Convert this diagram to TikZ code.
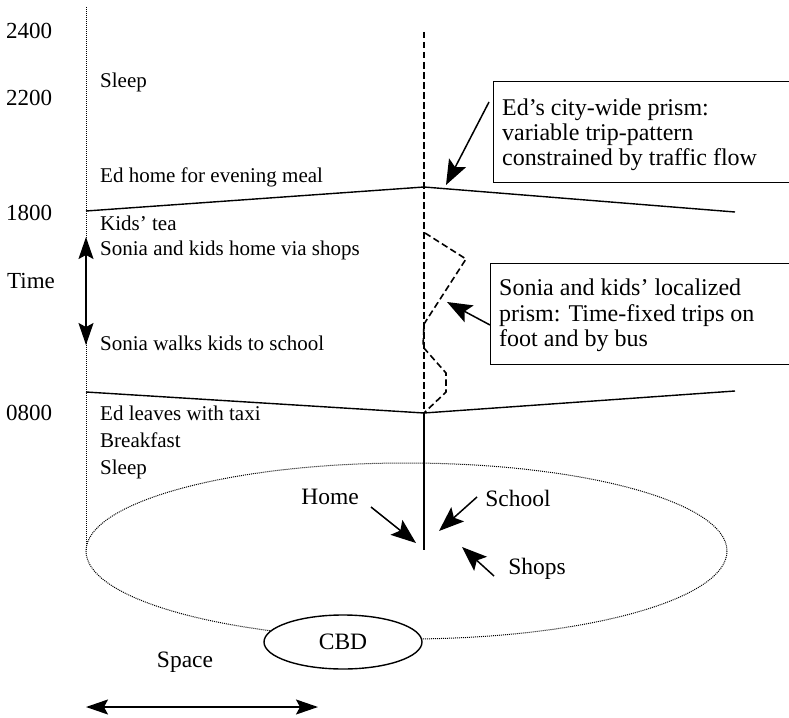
\documentclass[tikz,border=0pt]{standalone}
\usepackage{fontspec}
\setmainfont{Liberation Serif}
\usetikzlibrary{arrows.meta,shapes.geometric}
\tikzset{
  tl/.style={anchor=base west, inner sep=0pt, font=\fontsize{21}{25}\selectfont},
  ax/.style={anchor=base west, inner sep=0pt, font=\fontsize{23}{27}\selectfont},
  bx/.style={anchor=base west, inner sep=0pt, font=\fontsize{24}{26}\selectfont},
  lbl/.style={inner sep=0pt, font=\fontsize{23.5}{27}\selectfont},
  boxst/.style={draw, line width=1.2pt, anchor=north west, inner sep=0pt},
  prism/.style={line width=1.4pt},
  trippath/.style={line width=1.6pt, dash pattern=on 6.5pt off 3.5pt},
  dotl/.style={line width=1pt, dash pattern=on 1pt off 1pt},
  arr/.style={line width=1.5pt, -{Stealth[length=25pt, width=19pt, inset=5pt]}},
  darr/.style={line width=1.7pt, {Stealth[length=22pt, width=15pt, inset=4pt]}-{Stealth[length=22pt, width=15pt, inset=4pt]}},
}
\begin{document}
\begin{tikzpicture}[x=1pt, y=-1pt]
\useasboundingbox (0,0) rectangle (789,717);
\clip (0,0) rectangle (789,717);

% axis labels
\node[ax] (t2400) at (6,38) {2400};
\node[ax] (t2200) at (6,105) {2200};
\node[ax] (t1800) at (6,220) {1800};
\node[ax] (ttime) at (7,288) {Time};
\node[ax] (t0800) at (6,420) {0800};

% dotted time axis
\coordinate (axtop) at (86,7);
\coordinate (axbot) at (86,551);
\draw[dotl] (axtop) -- (axbot);

% time arrow
\coordinate (ta1) at (86,237);
\coordinate (ta2) at (86,345);
\draw[darr] (ta1) -- (ta2);

% activity labels
\node[tl] (sleep1) at (100,87) {Sleep};
\node[tl] (edhome) at (100,182) {Ed home for evening meal};
\node[tl] (kidstea) at (100,230) {Kids’ tea};
\node[tl] (soniahome) at (100,255) {Sonia and kids home via shops};
\node[tl] (soniawalk) at (100,350) {Sonia walks kids to school};
\node[tl] (edleaves) at (100,420) {Ed leaves with taxi};
\node[tl] (breakfast) at (100,447) {Breakfast};
\node[tl] (sleep2) at (100,474) {Sleep};

% dotted ellipse (space)
\draw[dotl] (406.5,551) ellipse [x radius=320.5, y radius=88];

% Ed's prism lines
\coordinate (u1) at (86,211);
\coordinate (u2) at (424,187);
\coordinate (u3) at (735,212);
\draw[prism] (u1) -- (u2) -- (u3);
\coordinate (l1) at (86,392);
\coordinate (l2) at (424,413);
\coordinate (l3) at (735,391);
\draw[prism] (l1) -- (l2) -- (l3);

% vertical path
\coordinate (vtop) at (424,32);
\coordinate (vbot) at (424,550);
\draw[trippath] (vtop) -- (vbot);
\draw[line width=1.6pt] (l2) -- (vbot);

% Sonia's path
\draw[trippath] (425,233) -- (466,259) -- (424,324) -- (423,347) -- (446,373) -- (446,392) -- (l2);

% boxes
\node[boxst, minimum width=310pt, minimum height=101pt] (edbox) at (493,81) {};
\node[bx] (ed1) at (502,115) {Ed’s city-wide prism:};
\node[bx] (ed2) at (502,140) {variable trip-pattern};
\node[bx] (ed3) at (502,165) {constrained by traffic flow};

\node[boxst, minimum width=310pt, minimum height=101pt] (sobox) at (490,263) {};
\node[bx] (so1) at (499,295) {Sonia and kids’ localized};
\node[bx] (so2) at (499,321) {prism: Time-fixed trips on};
\node[bx] (so3) at (499,346) {foot and by bus};

\coordinate (edarrs) at (489,102);
\coordinate (edarrt) at (446,185);
\draw[arr] (edarrs) -- (edarrt);
\coordinate (soarrs) at (490,325);
\coordinate (soarrt) at (447,302);
\draw[arr] (soarrs) -- (soarrt);

% places
\node[lbl] (home) at (330,497) {Home};
\node[lbl] (school) at (518,498) {School};
\node[lbl] (shops) at (537,569) {Shops};
\coordinate (homes) at (371,507);
\coordinate (homet) at (416,543);
\draw[arr] (homes) -- (homet);
\coordinate (schools) at (477,497);
\coordinate (schoolt) at (439,531);
\draw[arr] (schools) -- (schoolt);
\coordinate (shopss) at (494,576);
\coordinate (shopst) at (462,547);
\draw[arr] (shopss) -- (shopst);

% CBD
\node[ellipse, draw, line width=1.4pt, fill=white, minimum width=158pt, minimum height=54pt, inner sep=0pt, font=\fontsize{23.5}{27}\selectfont] (cbd) at (343,642) {CBD};

% space
\node[lbl] (space) at (185,662) {Space};
\coordinate (sa1) at (86,707);
\coordinate (sa2) at (318,707);
\draw[darr] (sa1) -- (sa2);
\end{tikzpicture}
\end{document}
